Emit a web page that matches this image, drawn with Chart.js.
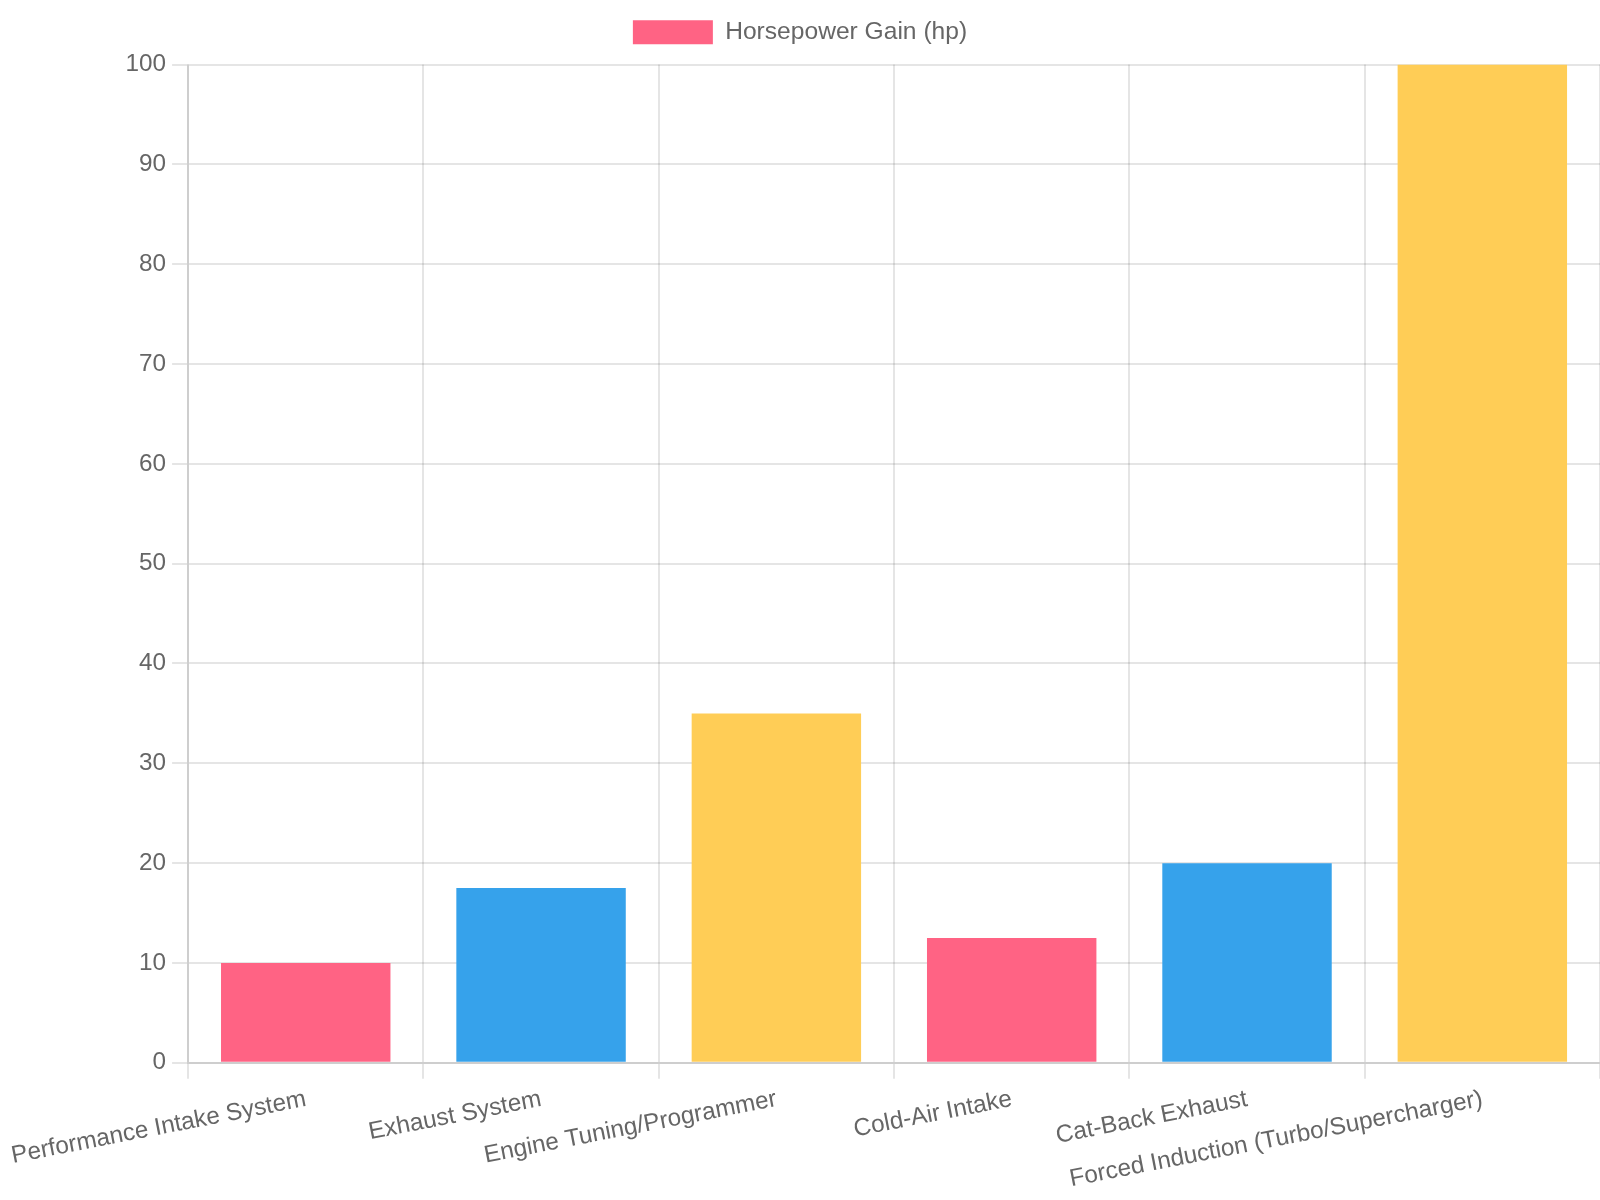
<!DOCTYPE html>
<html>
<head>
<meta charset="utf-8">
<script src="https://cdn.jsdelivr.net/npm/chart.js@4"></script>
<style>
  body { margin: 0; background: #fff; }
  #page { width: 1600px; height: 1200px; position: relative; }
  /* chart laid out at 800x600 and drawn at 2x, then shown at full 1600x1200 */
  #wrap { position: absolute; left: 0; top: 0; width: 800px; height: 600px; transform: scale(2); transform-origin: 0 0; }
</style>
</head>
<body>
<div id="page"><div id="wrap"><canvas id="hpChart"></canvas></div></div>
<script>
const categories = [
  'Performance Intake System',
  'Exhaust System',
  'Engine Tuning/Programmer',
  'Cold-Air Intake',
  'Cat-Back Exhaust',
  'Forced Induction (Turbo/Supercharger)'
];
const hpGain = [10, 17.5, 35, 12.5, 20, 100];
const barColors = ['#FF6384', '#36A2EB', '#FFCD56', '#FF6384', '#36A2EB', '#FFCD56'];

Chart.defaults.font.family = '"Liberation Sans", Arial, sans-serif';
Chart.defaults.font.size = 12.15;
Chart.defaults.color = '#666';

const hpChart = document.getElementById('hpChart');
new Chart(hpChart, {
  type: 'bar',
  data: {
    labels: categories,
    datasets: [
    {
      label: 'Horsepower Gain (hp)',
      data: hpGain,
      backgroundColor: barColors
    }]
  },
  options: {
    responsive: true,
    maintainAspectRatio: false,
    devicePixelRatio: 2,
    animation: false,
    plugins: {
      legend: {
        labels: {
          boxHeight: 12,
          font: { size: 12.3 }
        }
      },
      tooltip: { enabled: false }
    },
    scales: {
      y: {
        beginAtZero: true,
        max: 100,
        ticks: { stepSize: 10 }
      }
    }
  }
});
</script>
</body>
</html>
